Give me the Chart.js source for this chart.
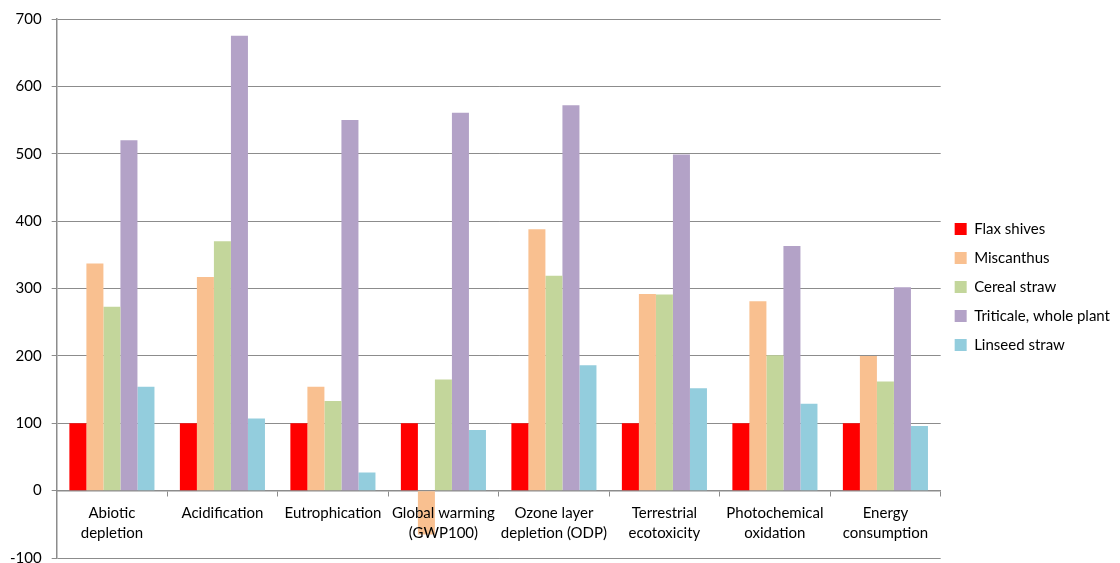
<!DOCTYPE html>
<html>
<head>
<meta charset="utf-8">
<script src="https://cdn.jsdelivr.net/npm/chart.js@4.4.0/dist/chart.umd.min.js"></script>
<style>
  html, body { margin: 0; padding: 0; background: #fff; overflow: hidden; }
  #wrap { width: 1120px; height: 577px; }
</style>
</head>
<body>
<div id="wrap"><canvas id="impactChart"></canvas></div>
<script>
const categories = [
    ['Abiotic', 'depletion'],
    'Acidification',
    'Eutrophication',
    ['Global warming', '(GWP100)'],
    ['Ozone layer', 'depletion (ODP)'],
    ['Terrestrial', 'ecotoxicity'],
    ['Photochemical', 'oxidation'],
    ['Energy', 'consumption']
];

const flaxShives = [100, 100, 100, 100, 100, 100, 100, 100];
const miscanthus = [337, 317, 154, -65, 388, 292, 281, 200];
const cerealStraw = [273, 370, 133, 165, 319, 291, 201, 162];
const triticale = [520, 675, 550, 561, 572, 499, 363, 302];
const linseedStraw = [154, 107, 27, 90, 186, 152, 129, 96];

const yTicks = [-100, 0, 100, 200, 300, 400, 500, 600, 700];

const gridGray = '#8c8c8c';
const font = { family: 'Lato, "Open Sans", sans-serif', size: 15 };

const ctx = document.getElementById('impactChart').getContext('2d');

// nudge the legend up a little, like the Excel original
const legendNudge = {
    id: 'legendNudge',
    afterLayout(chart) {
        chart.legend.top -= 10;
        chart.legend.bottom -= 10;
    }
};

const data = {
    labels: categories,
    datasets: [
        { label: 'Flax shives', data: flaxShives, backgroundColor: '#ff0000' },
        { label: 'Miscanthus', data: miscanthus, backgroundColor: '#f9c090' },
        { label: 'Cereal straw', data: cerealStraw, backgroundColor: '#c3d69b' },
        { label: 'Triticale, whole plant', data: triticale, backgroundColor: '#b3a2c7' },
        { label: 'Linseed straw', data: linseedStraw, backgroundColor: '#93cddd' }
    ]
};

const config = {
    type: 'bar',
    data: data,
    plugins: [legendNudge],
    options: {
        responsive: true,
        maintainAspectRatio: false,
        animation: false,
        datasets: {
            bar: { barPercentage: 1, categoryPercentage: 0.77 }
        },
        layout: {
            padding: { top: 17, bottom: 0, left: 0, right: 0 }
        },
        plugins: {
            legend: {
                position: 'right',
                labels: {
                    font: font,
                    color: '#000',
                    boxWidth: 12,
                    boxHeight: 12,
                    padding: 14
                }
            },
            tooltip: { enabled: false }
        },
        scales: {
            x: {
                position: { y: 0 },
                grid: {
                    offset: true,
                    drawOnChartArea: false,
                    drawTicks: true,
                    tickLength: 5,
                    color: gridGray
                },
                border: { color: gridGray, width: 1.5 },
                ticks: {
                    z: 1,
                    font: { family: font.family, size: 15, lineHeight: 1.33 },
                    color: '#000',
                    padding: 8,
                    maxRotation: 0,
                    autoSkip: false
                }
            },
            y: {
                min: -100,
                max: 700,
                afterBuildTicks: axis => { axis.ticks = yTicks.map(v => ({ value: v })); },
                grid: { color: gridGray, tickLength: 5 },
                border: { color: gridGray, width: 1.5 },
                ticks: { font: font, color: '#000', padding: 10 }
            }
        }
    }
};

const impactChart = new Chart(ctx, config);
</script>
</body>
</html>
